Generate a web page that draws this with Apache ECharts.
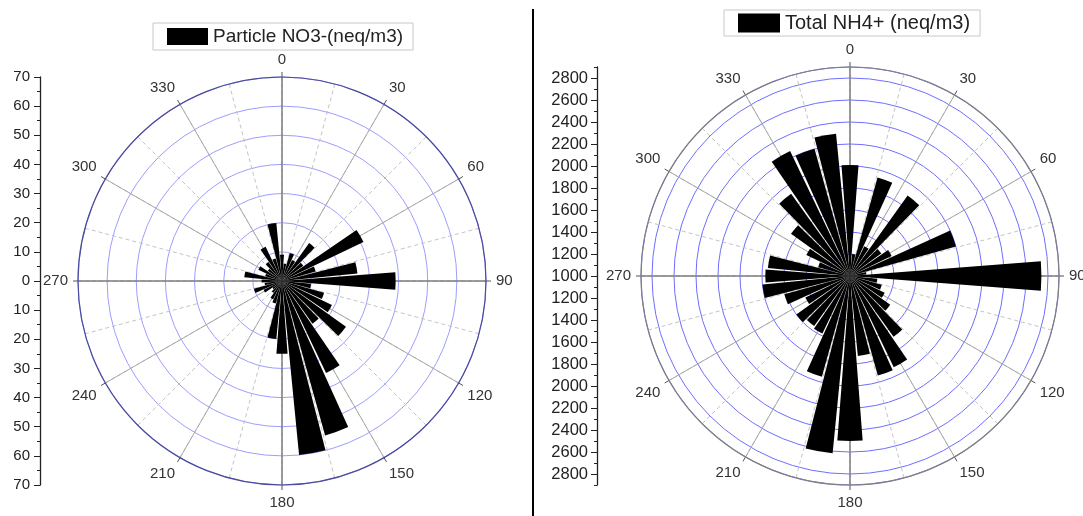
<!DOCTYPE html>
<html>
<head>
<meta charset="utf-8">
<script src="https://cdn.jsdelivr.net/npm/echarts@6/dist/echarts.min.js"></script>
<style>
html,body{margin:0;padding:0;background:#fff;}
#chart{width:1083px;height:516px;}
</style>
</head>
<body>
<div id="chart"></div>
<script>
// wind sectors, 10 degree bins
var angles = [0,10,20,30,40,50,60,70,80,90,100,110,120,130,140,150,160,170,
              180,190,200,210,220,230,240,250,260,270,280,290,300,310,320,330,340,350];
var no3 = [9,6,10,8,16,9,31,12,26,39,10,15,19,27,18,35,55,60,
           25,20,8,7,5,4,7,10,6,7,13,6,9,6,8,13,8,20];
var nh4 = [2010,1200,1930,1300,1900,1350,1420,2000,1150,2740,1250,1300,1350,1450,1680,1920,1940,1730,
           2500,2620,1950,1580,1560,1600,1450,1620,1800,1770,1750,1300,1440,1660,1920,2260,2200,2300];
var no3Name = 'Particle NO3-(neq/m3)';
var nh4Name = 'Total NH4+ (neq/m3)';
var no3Max = 70;
var nh4Base = 1000, nh4Max = 2900;

var FONT = 'Liberation Sans, Arial, sans-serif';

// custom tick positions for the right hand scale (offset from the 1000 centre)
var nh4Major = [], nh4Minor = [];
for (var v = -(nh4Max - nh4Base); v <= nh4Max - nh4Base; v += 100) {
	if (v % 200 === 0) nh4Major.push(v); else nh4Minor.push(v);
}

var polars = [], angleAxes = [], radiusAxes = [];

function addRose(center, radius, rMax, ringInt, ringColor, rimColor){
	var base = polars.length;
	// 0: dashed 15 deg lines, 1: solid 30 deg lines + rings + labels, 2: cross, 3: bars
	for (var k = 0; k < 4; k++) {
		polars.push({center: center, radius: radius});
	}
	angleAxes.push({polarIndex: base, type:'value', min:0, max:360, interval:15, startAngle:90,
		axisLine:{show:false}, axisTick:{show:false}, axisLabel:{show:false},
		splitLine:{show:true, lineStyle:{color:'#c4c4c4', type:[4,3], width:1}}});
	angleAxes.push({polarIndex: base+1, type:'value', min:0, max:360, interval:30, startAngle:90,
		axisLine:{show:true, lineStyle:{color:rimColor, width:1.2}},
		axisTick:{show:true, length:5, lineStyle:{color:'#555'}},
		axisLabel:{show:true, margin:10, color:'#333', fontSize:15, fontFamily:FONT,
			formatter:function(v){ return v === 360 ? '' : String(v); }},
		splitLine:{show:true, lineStyle:{color:'#a8a8a8', width:1}}});
	angleAxes.push({polarIndex: base+2, type:'value', min:0, max:360, interval:90, startAngle:90,
		axisLine:{show:false}, axisTick:{show:false}, axisLabel:{show:false},
		splitLine:{show:true, lineStyle:{color:'#666', width:1}}});
	angleAxes.push({polarIndex: base+3, type:'category', data: angles.map(String), startAngle:95,
		clockwise:true, show:false});

	radiusAxes.push({polarIndex: base, min:0, max:rMax, show:false});
	radiusAxes.push({polarIndex: base+1, min:0, max:rMax, interval:ringInt,
		axisLine:{show:false}, axisTick:{show:false}, axisLabel:{show:false},
		splitLine:{show:true, lineStyle:{color:ringColor, width:1}}});
	radiusAxes.push({polarIndex: base+2, min:0, max:rMax, show:false});
	radiusAxes.push({polarIndex: base+3, min:0, max:rMax, show:false});
	return base + 3;
}

var leftBarPolar = addRose([282, 281], 204, no3Max, 10, '#9d9dff', '#4b4b9e');
var rightBarPolar = addRose([850, 276], 209, nh4Max - nh4Base, 200, '#6e6eff', '#808080');

var option = {
	animation: false,
	backgroundColor: '#fff',
	polar: polars,
	angleAxis: angleAxes,
	radiusAxis: radiusAxes,
	grid: [
		{left:40, top:77, width:1, height:408},
		{left:597, top:67, width:1, height:418}
	],
	xAxis: [
		{gridIndex:0, type:'value', show:false},
		{gridIndex:1, type:'value', show:false}
	],
	yAxis: [
		{gridIndex:0, type:'value', min:-no3Max, max:no3Max, interval:10, position:'left',
			axisLine:{show:true, lineStyle:{color:'#222', width:1.3}},
			axisTick:{show:true, length:6, lineStyle:{color:'#222'}},
			minorTick:{show:true, splitNumber:2, length:3, lineStyle:{color:'#222'}},
			splitLine:{show:false},
			axisLabel:{margin:10, color:'#222', fontSize:15, fontFamily:FONT,
				formatter:function(v){ return Math.abs(v); }}},
		{gridIndex:1, type:'value', min:-(nh4Max - nh4Base), max:nh4Max - nh4Base, position:'left',
			axisLine:{show:true, lineStyle:{color:'#222', width:1.3}},
			axisTick:{show:true, length:6, customValues:nh4Major, lineStyle:{color:'#222'}},
			splitLine:{show:false},
			axisLabel:{margin:9, customValues:nh4Major, color:'#222', fontSize:16.5, fontFamily:FONT,
				formatter:function(v){ return nh4Base + Math.abs(v); }}},
		{gridIndex:1, type:'value', min:-(nh4Max - nh4Base), max:nh4Max - nh4Base, position:'left', offset:0,
			axisLine:{show:false},
			axisTick:{show:true, length:3, customValues:nh4Minor, lineStyle:{color:'#222'}},
			axisLabel:{show:false}, splitLine:{show:false}}
	],
	legend: [
		{data:[no3Name], left:153, top:23, icon:'rect', itemWidth:41, itemHeight:17,
			borderColor:'#c8c8c8', borderWidth:1, padding:[4,10,4,14],
			textStyle:{fontSize:19, color:'#222', fontFamily:FONT}},
		{data:[nh4Name], left:724, top:10, icon:'rect', itemWidth:42, itemHeight:19,
			borderColor:'#c8c8c8', borderWidth:1, padding:[3,10,3,14],
			textStyle:{fontSize:20, color:'#222', fontFamily:FONT}}
	],
	graphic: [
		{type:'line', shape:{x1:533, y1:9, x2:533, y2:516}, style:{stroke:'#000', lineWidth:2}}
	],
	series: [
		{name:no3Name, type:'bar', coordinateSystem:'polar', polarIndex:leftBarPolar,
			data:no3, barCategoryGap:'12%', itemStyle:{color:'#000'}, z:5},
		{name:nh4Name, type:'bar', coordinateSystem:'polar', polarIndex:rightBarPolar,
			data:nh4.map(function(v){ return v - nh4Base; }), barCategoryGap:'12%', itemStyle:{color:'#000'}, z:5}
	]
};

var myChart = echarts.init(document.getElementById('chart'));
myChart.setOption(option);
</script>
</body>
</html>
